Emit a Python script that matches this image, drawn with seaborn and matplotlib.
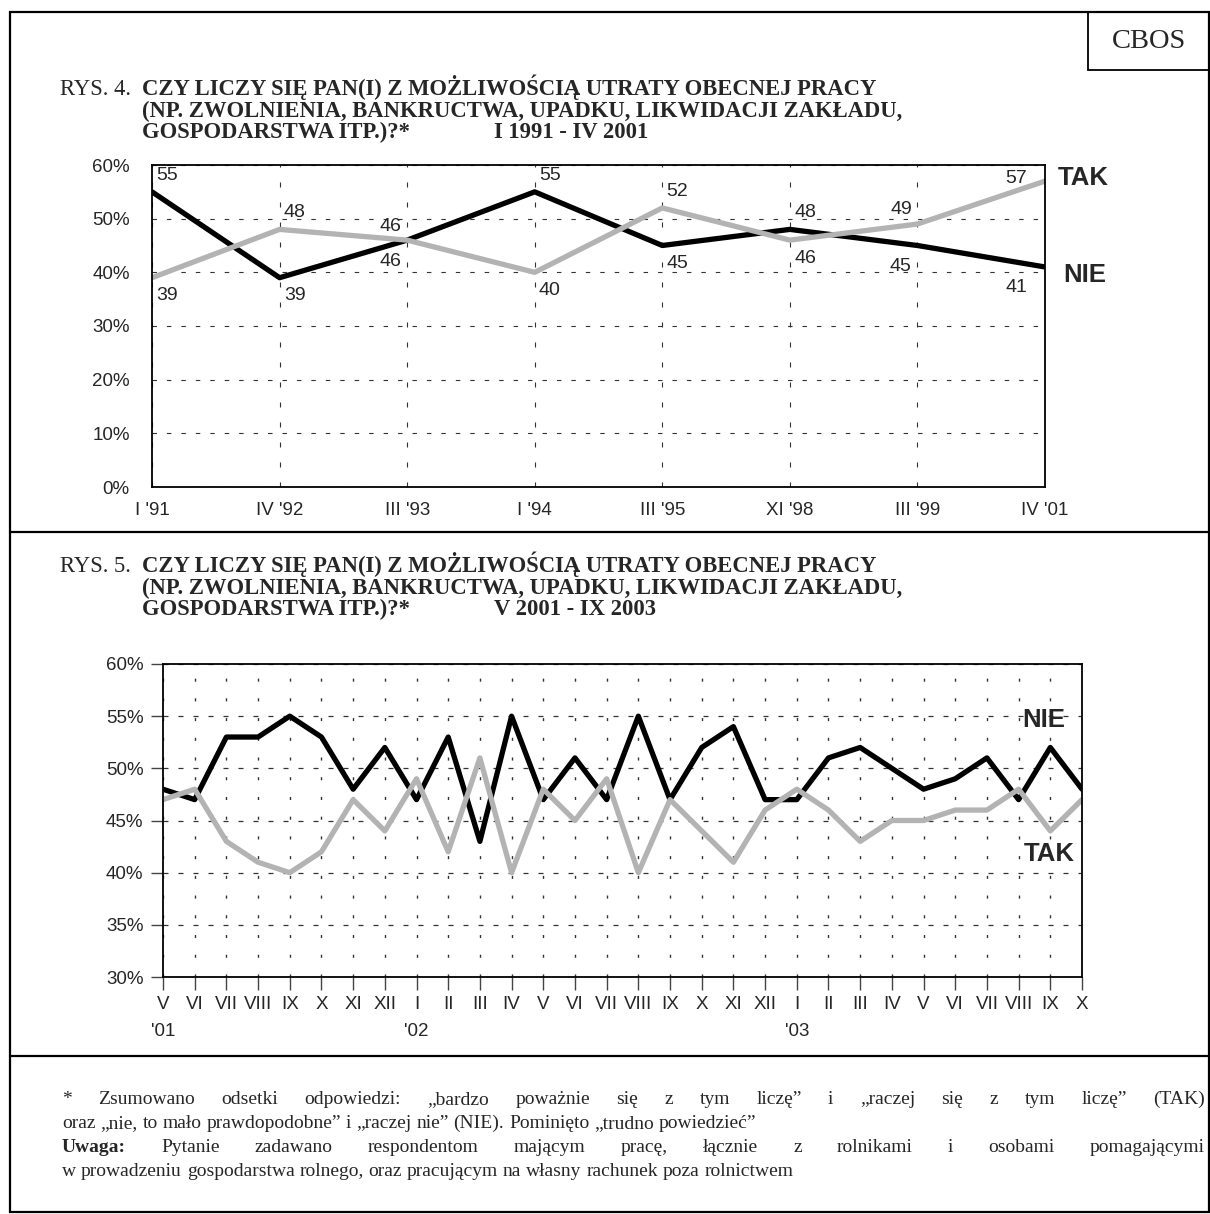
import pandas as pd
import matplotlib
matplotlib.use('Agg')
import matplotlib.pyplot as plt
from matplotlib.lines import Line2D
from matplotlib.patches import Rectangle
import seaborn as sns

# RYS. 4 -- I 1991 - IV 2001
okresy_4 = ["I '91", "IV '92", "III '93", "I '94", "III '95", "XI '98", "III '99", "IV '01"]
tak_4 = [39, 48, 46, 40, 52, 46, 49, 57]
nie_4 = [55, 39, 46, 55, 45, 48, 45, 41]

# RYS. 5 -- V 2001 - IX 2003 (monthly)
miesiace_5 = ["V\n'01", "VI", "VII", "VIII", "IX", "X", "XI", "XII",
              "I\n'02", "II", "III", "IV", "V", "VI", "VII", "VIII", "IX", "X", "XI", "XII",
              "I\n'03", "II", "III", "IV", "V", "VI", "VII", "VIII", "IX", "X"]
nie_5 = [48, 47, 53, 53, 55, 53, 48, 52,
         47, 53, 43, 55, 47, 51, 47, 55, 47, 52, 54, 47,
         47, 51, 52, 50, 48, 49, 51, 47, 52, 48]
tak_5 = [47, 48, 43, 41, 40, 42, 47, 44,
         49, 42, 51, 40, 48, 45, 49, 40, 47, 44, 41, 46,
         48, 46, 43, 45, 45, 46, 46, 48, 44, 47]

tytul = ['CZY LICZY SIĘ PAN(I) Z MOŻLIWOŚCIĄ UTRATY OBECNEJ PRACY',
         '(NP. ZWOLNIENIA, BANKRUCTWA, UPADKU, LIKWIDACJI ZAKŁADU,',
         'GOSPODARSTWA ITP.)?*']

sns.set_theme(style='white')
plt.rcParams['font.family'] = ['Liberation Sans', 'DejaVu Sans']

W, H = 1210, 1214
GRAY = '#b3b3b3'
SERIF = 'Liberation Serif'
TICK_FS = 13.5
TITLE_FS = 16.3
fig = plt.figure(figsize=(W / 100, H / 100), dpi=100)


def box(l, t, r, b):
    return [l / W, 1 - b / H, (r - l) / W, (b - t) / H]


def fy(y):
    return 1 - y / H


#########
# frame, dividers, CBOS box
#########
fig.add_artist(Rectangle((10 / W, fy(1212)), 1199 / W, 1200 / H, fill=False,
                         lw=1.6, ec='black', transform=fig.transFigure))
for yy in (532, 1056):
    fig.add_artist(Line2D([10 / W, 1209 / W], [fy(yy), fy(yy)], lw=1.6, color='black',
                          transform=fig.transFigure))
fig.add_artist(Rectangle((1088 / W, fy(70)), 121 / W, 58 / H, fill=False,
                         lw=1.3, ec='black', transform=fig.transFigure))
fig.text(1149 / W, fy(42), 'CBOS', family=SERIF, fontsize=20.5, ha='center', va='center')


def naglowek(y, nr, okres):
    fig.text(60 / W, fy(y), f'RYS. {nr}.', family=SERIF, fontsize=TITLE_FS, va='baseline')
    for k, t in enumerate(tytul):
        fig.text(142 / W, fy(y + 21.7 * k), t, family=SERIF, fontsize=TITLE_FS,
                 weight='bold', va='baseline')
    fig.text(494 / W, fy(y + 43.4), okres, family=SERIF, fontsize=TITLE_FS,
             weight='bold', va='baseline')


naglowek(95, 4, 'I 1991 - IV 2001')
naglowek(572, 5, 'V 2001 - IX 2003')

#########
# RYS. 4
#########
ax1 = fig.add_axes(box(152, 165, 1045, 487))
df4 = pd.DataFrame({'x': range(len(okresy_4)), 'TAK': tak_4, 'NIE': nie_4})
sns.lineplot(data=df4, x='x', y='NIE', ax=ax1, color='black', lw=3.8)
sns.lineplot(data=df4, x='x', y='TAK', ax=ax1, color=GRAY, lw=3.8)
ax1.set_xlim(0, len(okresy_4) - 1)
ax1.set_ylim(0, 60)
ax1.set_xticks(range(len(okresy_4)))
ax1.set_xticklabels(okresy_4)
ax1.set_yticks(range(0, 61, 10))
ax1.set_yticklabels([f'{v}%' for v in range(0, 61, 10)])
ax1.tick_params(length=0, labelsize=TICK_FS)
ax1.tick_params(axis='y', pad=16)
ax1.tick_params(axis='x', pad=11)
ax1.yaxis.grid(True, linestyle=(0, (4, 9)), color='#333333', lw=0.8)
ax1.xaxis.grid(True, linestyle=(0, (4.5, 13.5)), color='#333333', lw=0.8)
ax1.set_xlabel('')
ax1.set_ylabel('')

# label placement: left of point for the last periods
ha4 = ['left', 'left', 'right', 'left', 'left', 'left', 'right', 'right']
for i in range(len(okresy_4)):
    hi = max(tak_4[i], nie_4[i])
    lo = min(tak_4[i], nie_4[i])
    dx = 3 if ha4[i] == 'left' else -4
    dy_hi, dy_lo = 6, -7
    if i == len(okresy_4) - 1:
        dx, dy_hi, dy_lo = -13, -4, -9
    elif ha4[i] == 'right':
        dy_hi, dy_lo = 4, -9
    ax1.annotate(str(hi), (i, hi), xytext=(dx, dy_hi), textcoords='offset points',
                 ha=ha4[i], va='bottom', fontsize=14, annotation_clip=False)
    ax1.annotate(str(lo), (i, lo), xytext=(dx, dy_lo), textcoords='offset points',
                 ha=ha4[i], va='top', fontsize=14, annotation_clip=False)

n4 = len(okresy_4) - 1
ax1.annotate('TAK', (n4, tak_4[-1]), xytext=(9, 2), textcoords='offset points',
             ha='left', va='center', fontsize=18.5, weight='bold', annotation_clip=False)
ax1.annotate('NIE', (n4, nie_4[-1]), xytext=(13, -6), textcoords='offset points',
             ha='left', va='center', fontsize=18.5, weight='bold', annotation_clip=False)

#########
# RYS. 5
#########
ax2 = fig.add_axes(box(163, 664, 1082, 977))
df5 = pd.DataFrame({'x': range(len(miesiace_5)), 'TAK': tak_5, 'NIE': nie_5})
sns.lineplot(data=df5, x='x', y='NIE', ax=ax2, color='black', lw=3.8)
sns.lineplot(data=df5, x='x', y='TAK', ax=ax2, color=GRAY, lw=3.8)
ax2.set_xlim(0, len(miesiace_5) - 1)
ax2.set_ylim(30, 60)
ax2.set_xticks(range(len(miesiace_5)))
ax2.set_xticklabels(miesiace_5)
for lab in ax2.get_xticklabels():
    lab.set_linespacing(1.7)
ax2.set_yticks(range(30, 61, 5))
ax2.set_yticklabels([f'{v}%' for v in range(30, 61, 5)])
ax2.tick_params(direction='out', length=9, width=1, color='#444444', labelsize=TICK_FS, pad=5,
                bottom=True, left=True)
ax2.xaxis.grid(True, linestyle=(0, (2.2, 12)), color='#333333', lw=1)
ax2.yaxis.grid(True, linestyle=(0, (4, 8)), color='#333333', lw=0.9)
ax2.set_xlabel('')
ax2.set_ylabel('')
ax2.text(27.1, 54.6, 'NIE', fontsize=18.5, weight='bold', va='center', ha='left')
ax2.text(27.15, 41.8, 'TAK', fontsize=18.5, weight='bold', va='center', ha='left')

for ax in (ax1, ax2):
    for s in ax.spines.values():
        s.set_color('black')
        s.set_linewidth(1.3)

#########
# footnote
#########
renderer = fig.canvas.get_renderer()
FS = 14


def wiersz(slowa, y, justuj=True, x0=62, x1=1205):
    teksty = [fig.text(0, fy(y), s, family=SERIF, fontsize=FS, weight=w, va='baseline')
              for s, w in slowa]
    szer = [t.get_window_extent(renderer).width for t in teksty]
    if justuj:
        odstep = (x1 - x0 - sum(szer)) / (len(teksty) - 1)
    else:
        spacja = fig.text(0, 0, 'a a', family=SERIF, fontsize=FS)
        aa = fig.text(0, 0, 'aa', family=SERIF, fontsize=FS)
        odstep = spacja.get_window_extent(renderer).width - aa.get_window_extent(renderer).width
        spacja.remove()
        aa.remove()
    x = x0
    for t, s in zip(teksty, szer):
        t.set_x(x / W)
        x += s + odstep


def slowa(tekst, pierwsze_bold=False):
    lista = [(s, 'normal') for s in tekst.split(' ')]
    if pierwsze_bold:
        lista[0] = (lista[0][0], 'bold')
    return lista


wiersz(slowa('* Zsumowano odsetki odpowiedzi: „bardzo poważnie się z tym liczę” i „raczej się z tym liczę” (TAK)'), 1104)
wiersz(slowa('oraz „nie, to mało prawdopodobne” i „raczej nie” (NIE). Pominięto „trudno powiedzieć”'), 1128, justuj=False)
wiersz(slowa('Uwaga: Pytanie zadawano respondentom mającym pracę, łącznie z rolnikami i osobami pomagającymi', True), 1152)
wiersz(slowa('w prowadzeniu gospodarstwa rolnego, oraz pracującym na własny rachunek poza rolnictwem'), 1176, justuj=False)

fig.savefig('out.png', dpi=100)
